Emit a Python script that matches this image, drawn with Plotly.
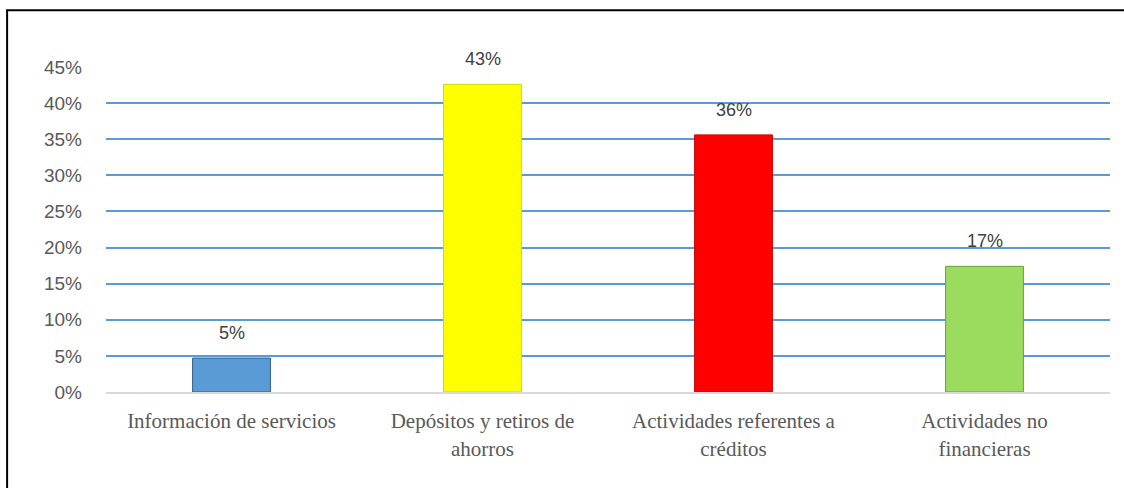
import plotly.graph_objects as go

categories = ["Información de servicios", "Depósitos y retiros de<br>ahorros",
              "Actividades referentes a<br>créditos", "Actividades no<br>financieras"]
values = [0.047, 0.426, 0.356, 0.174]
labels = ["5%", "43%", "36%", "17%"]
colors = ["#5B9BD5", "#FFFF00", "#FF0000", "#9BDB5E"]
edge_colors = ["#2E5F8A", "#D6D600", "#CC0000", "#6E9E3E"]
tick_vals = [0, 0.05, 0.10, 0.15, 0.20, 0.25, 0.30, 0.35, 0.40, 0.45]
tick_text = ["0%", "5%", "10%", "15%", "20%", "25%", "30%", "35%", "40%", "45%"]

fig = go.Figure()
fig.add_trace(go.Bar(
    x=categories, y=values,
    marker=dict(color=colors, line=dict(color=edge_colors, width=1)),
    width=0.31,
    hoverinfo="skip",
))

for c, v, t in zip(categories, values, labels):
    fig.add_annotation(x=c, y=v, text=t, showarrow=False, yanchor="middle", yshift=25,
                       font=dict(family="Liberation Sans", size=18, color="#404040"))

fig.add_shape(type="rect", xref="paper", yref="paper", x0=-0.0985, x1=1.03, y0=-0.4, y1=1.175,
              line=dict(color="black", width=2), fillcolor="rgba(0,0,0,0)", layer="below")

fig.update_layout(
    width=1124, height=488,
    margin=dict(l=106, r=14, t=67, b=96),
    paper_bgcolor="white", plot_bgcolor="white",
    showlegend=False,
    xaxis=dict(showgrid=False, showline=True, linecolor="#D9D9D9", linewidth=2,
               tickfont=dict(family="Liberation Serif", size=21, color="#595959"),
               ticks="", ticklabelstandoff=9, fixedrange=True, automargin=False),
    yaxis=dict(range=[0, 0.45], tickvals=tick_vals, ticktext=tick_text,
               showgrid=True, gridcolor="#5B9BD5", gridwidth=2, zeroline=False,
               tickfont=dict(family="Liberation Sans", size=19, color="#595959"),
               ticklabelstandoff=23, fixedrange=True, automargin=False),
)

fig.write_html("out.html", config={"displayModeBar": False},
               post_script="document.body.style.margin='0';document.body.style.overflow='hidden';")
